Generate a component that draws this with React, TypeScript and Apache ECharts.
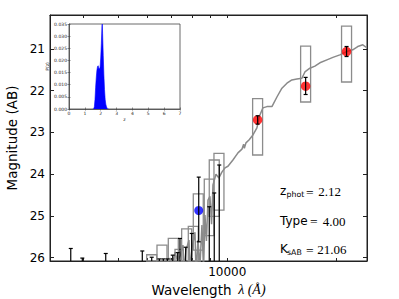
import React, { useEffect, useRef } from "react";
import * as echarts from "echarts";

// ---- Data ----
const specLam = [5000, 6000, 6600, 6947, 7050, 7171, 7300, 7403, 7543, 7600, 7691, 7837, 7900, 7990, 8144, 8200, 8299, 8405, 8512, 8600, 8678, 8760, 8846, 8955, 9050, 9131, 9306, 9485, 9663, 9854, 10045, 10368, 10705, 10980, 11100, 11150, 11264, 11482, 11777, 12078, 12311, 12548, 12874, 13290, 13719, 14163, 14622, 15089, 15575, 16083, 16393, 16922, 17469, 18034, 18857, 19590, 20479, 21415, 22225, 22946, 23700, 24310];
const specMag = [27.0, 26.6, 26.3, 26.01, 26.2, 25.87, 26.1, 25.96, 25.7, 26.3, 25.82, 25.58, 26.3, 25.77, 25.39, 26.4, 25.58, 26.2, 25.22, 26.3, 24.98, 25.6, 24.62, 24.53, 25.2, 24.26, 24.0, 24.09, 23.95, 23.85, 23.81, 23.66, 23.49, 23.4, 23.28, 23.38, 23.25, 23.18, 23.06, 22.89, 22.58, 22.41, 22.38, 22.38, 22.15, 21.94, 21.82, 21.74, 21.72, 21.7, 21.55, 21.46, 21.41, 21.33, 21.26, 21.2, 21.14, 21.06, 21.02, 20.94, 20.9, 20.97];

// filter boxes: lambda min, lambda max, mag top, mag bottom
const boxLamMin = [5988, 6394, 6871, 7171, 7482, 7804, 8056, 8640, 8918, 9189, 11753, 15953, 20700];
const boxLamMax = [6383, 6814, 7323, 7560, 7975, 8316, 8584, 9189, 9504, 9792, 12523, 16999, 22060];
const boxMagTop = [25.93, 25.7, 25.54, 25.8, 25.31, 25.25, 24.47, 24.12, 23.66, 23.5, 22.19, 20.93, 20.45];
const boxMagBot = [27.2, 27.05, 26.89, 27.15, 26.66, 26.6, 25.82, 25.47, 25.01, 24.86, 23.54, 22.27, 21.79];

// error bars: lambda, mag top, mag bottom
const errLam = [3693, 3975, 4614, 5823, 6183, 6490, 6657, 6830, 7067, 7295, 7401, 7675, 7975, 8340, 8918, 9206, 9504, 12134, 16470, 21370];
const errTop = [25.78, 26.01, 25.9, 25.84, 25.99, 26.03, 26.03, 26.03, 25.94, 25.88, 25.54, 25.75, 25.42, 24.07, 24.78, 24.45, 23.78, 22.6, 21.68, 20.94];
const errBot = [27, 27, 27, 27, 27, 27, 27, 27, 27, 27, 27, 27, 27, 25.62, 27, 27, 27, 22.8, 22.09, 21.18];

const redLam = [12134, 16470, 21370];
const redMag = [22.7, 21.89, 21.06];
const blueLam = [8340];
const blueMag = [24.87];

const xTickValues = [4000, 5000, 6000, 7000, 8000, 9000, 10000, 20000];
const xLabelValues = [10000];
const yTickValues = [21, 22, 23, 24, 25, 26];

// P(z) inset
const pzZ = [1.5, 1.56, 1.6, 1.64, 1.68, 1.72, 1.76, 1.8, 1.84, 1.88, 1.92, 1.96, 2.0, 2.04, 2.08, 2.1, 2.12, 2.16, 2.2, 2.24, 2.28, 2.32, 2.36, 2.42, 2.5];
const pzP = [0, 0, 0.001, 0.004, 0.009, 0.013, 0.016, 0.0175, 0.0178, 0.0168, 0.0165, 0.0172, 0.021, 0.027, 0.0345, 0.035, 0.031, 0.022, 0.014, 0.008, 0.004, 0.002, 0.001, 0, 0];

const SANS = '"DejaVu Sans", sans-serif';
const SERIF = '"Liberation Serif", serif';

function buildOption() {
  const spec = specLam.map((l, i) => [l, specMag[i]]);
  const boxes = boxLamMin.map((l, i) => [l, boxLamMax[i], boxMagTop[i], boxMagBot[i]]);
  const errs = errLam.map((l, i) => [l, errTop[i], errBot[i]]);
  const red = redLam.map((l, i) => [l, redMag[i]]);
  const blue = blueLam.map((l, i) => [l, blueMag[i]]);
  const pz = pzZ.map((z, i) => [z, pzP[i]]);

  const mainX = {
    type: "log",
    logBase: 10,
    min: 3236,
    max: 24340,
    gridIndex: 0,
    splitLine: { show: false },
    axisLine: { show: true, lineStyle: { color: "#222", width: 1 } },
  };
  const mainY = {
    type: "value",
    inverse: true,
    min: 20.185,
    max: 26.08,
    gridIndex: 0,
    splitLine: { show: false },
    axisLine: { show: true, lineStyle: { color: "#222", width: 1 } },
  };

  const axisTitle = { fontFamily: SANS, fontSize: 13.5, color: "#000" };
  const insetLbl = { fontFamily: SANS, fontSize: 4.5, color: "#222", margin: 2 };

  const annot = (y: number, main: string, sub: string, subX: number, eqX: number, numX: number, num: string) => {
    const els: any[] = [
      { type: "text", x: 280, y, style: { text: main, fontFamily: SANS, fontSize: 12, fill: "#000", verticalAlign: "middle" } },
      { type: "text", x: eqX, y: y + 1, style: { text: "=", fontFamily: SERIF, fontSize: 13.5, fill: "#000", verticalAlign: "middle" } },
      { type: "text", x: numX, y: y + 0.5, style: { text: num, fontFamily: SERIF, fontSize: 13, fill: "#000", verticalAlign: "middle" } },
    ];
    if (sub) {
      els.push({ type: "text", x: subX, y: y + 3.5, style: { text: sub, fontFamily: SANS, fontSize: 7.8, fill: "#000", verticalAlign: "middle" } });
    }
    return els;
  };

  return {
    animation: false,
    backgroundColor: "#fff",
    grid: [
      { left: 50, top: 15, width: 317, height: 246, outerBoundsMode: "none", containLabel: false, show: true, borderColor: "#222", borderWidth: 1, backgroundColor: "transparent" },
      { left: 69, top: 24, width: 111, height: 85, outerBoundsMode: "none", containLabel: false, show: true, borderColor: "#444", borderWidth: 0.8, backgroundColor: "#fff" },
    ],
    xAxis: [
      {
        ...mainX,
        position: "bottom",
        axisTick: { show: true, inside: true, length: 3, customValues: xTickValues, lineStyle: { color: "#222" } },
        axisLabel: {
          show: true,
          customValues: xLabelValues,
          formatter: (v: number) => String(Math.round(v)),
          fontFamily: SANS,
          fontSize: 12,
          color: "#000",
          margin: 5,
        },
        name: "{a|Wavelength}  {b|λ (Å)}",
        nameLocation: "middle",
        nameGap: 19,
        nameTextStyle: {
          rich: {
            a: { ...axisTitle },
            b: { fontFamily: SERIF, fontStyle: "italic", fontSize: 14, color: "#000" },
          },
        },
      },
      {
        ...mainX,
        position: "top",
        axisTick: { show: true, inside: true, length: 3, customValues: xTickValues, lineStyle: { color: "#222" } },
        axisLabel: { show: false },
      },
      {
        type: "value",
        gridIndex: 1,
        min: 0,
        max: 7,
        interval: 1,
        position: "bottom",
        splitLine: { show: false },
        axisLine: { show: true, lineStyle: { color: "#444", width: 0.8 } },
        axisTick: { show: true, inside: true, length: 1.5, lineStyle: { color: "#444", width: 0.6 } },
        axisLabel: { ...insetLbl },
        name: "z",
        nameLocation: "middle",
        nameGap: 7,
        nameTextStyle: { fontFamily: SANS, fontSize: 4.5, color: "#222" },
      },
      {
        type: "value",
        gridIndex: 1,
        min: 0,
        max: 7,
        interval: 1,
        position: "top",
        splitLine: { show: false },
        axisLine: { show: false },
        axisTick: { show: true, inside: true, length: 1.5, lineStyle: { color: "#444", width: 0.6 } },
        axisLabel: { show: false },
      },
    ],
    yAxis: [
      {
        ...mainY,
        position: "left",
        axisTick: { show: true, inside: true, length: 4, customValues: yTickValues, lineStyle: { color: "#222" } },
        axisLabel: { show: true, customValues: yTickValues, fontFamily: SANS, fontSize: 12, color: "#000", margin: 5 },
        name: "Magnitude (AB)",
        nameLocation: "middle",
        nameGap: 22,
        nameRotate: 90,
        nameTextStyle: { ...axisTitle },
      },
      {
        ...mainY,
        position: "right",
        axisTick: { show: true, inside: true, length: 4, customValues: yTickValues, lineStyle: { color: "#222" } },
        axisLabel: { show: false },
      },
      {
        type: "value",
        gridIndex: 1,
        min: 0,
        max: 0.035,
        interval: 0.005,
        position: "left",
        splitLine: { show: false },
        axisLine: { show: true, lineStyle: { color: "#444", width: 0.8 } },
        axisTick: { show: true, inside: true, length: 1.5, lineStyle: { color: "#444", width: 0.6 } },
        axisLabel: { ...insetLbl, formatter: (v: number) => v.toFixed(3) },
        name: "P(z)",
        nameLocation: "middle",
        nameGap: 15,
        nameRotate: 90,
        nameTextStyle: { fontFamily: SANS, fontSize: 4.5, color: "#222" },
      },
      {
        type: "value",
        gridIndex: 1,
        min: 0,
        max: 0.035,
        interval: 0.005,
        position: "right",
        splitLine: { show: false },
        axisLine: { show: false },
        axisTick: { show: true, inside: true, length: 1.5, lineStyle: { color: "#444", width: 0.6 } },
        axisLabel: { show: false },
      },
    ],
    series: [
      {
        type: "custom",
        name: "boxes",
        xAxisIndex: 0,
        yAxisIndex: 0,
        data: boxes,
        encode: { x: [0, 1], y: [2, 3] },
        z: 2,
        renderItem: (params: any, api: any) => {
          const p1 = api.coord([api.value(0), api.value(2)]);
          const p2 = api.coord([api.value(1), api.value(3)]);
          const cs = params.coordSys;
          const bottom = cs.y + cs.height;
          const x0 = Math.min(p1[0], p2[0]);
          const x1 = Math.max(p1[0], p2[0]);
          const yTop = Math.max(Math.min(p1[1], p2[1]), cs.y);
          const yBot = Math.min(Math.max(p1[1], p2[1]), bottom);
          return {
            type: "polygon",
            shape: { points: [[x0, yBot], [x0, yTop], [x1, yTop], [x1, yBot]] },
            style: { fill: "none", stroke: "#8c8c8c", lineWidth: 1.3 },
          };
        },
      },
      {
        type: "line",
        name: "spectrum",
        xAxisIndex: 0,
        yAxisIndex: 0,
        data: spec,
        showSymbol: false,
        symbol: "none",
        clip: true,
        z: 3,
        lineStyle: { color: "#8a8a8a", width: 1.5 },
      },
      {
        type: "scatter",
        name: "blue",
        xAxisIndex: 0,
        yAxisIndex: 0,
        data: blue,
        symbolSize: 9,
        itemStyle: { color: "#0000ff" },
        z: 4,
      },
      {
        type: "scatter",
        name: "red",
        xAxisIndex: 0,
        yAxisIndex: 0,
        data: red,
        symbolSize: 9.5,
        itemStyle: { color: "#ff0000" },
        z: 4,
      },
      {
        type: "custom",
        name: "errors",
        xAxisIndex: 0,
        yAxisIndex: 0,
        data: errs,
        encode: { x: 0, y: [1, 2] },
        z: 5,
        renderItem: (params: any, api: any) => {
          const pt = api.coord([api.value(0), api.value(1)]);
          const pb = api.coord([api.value(0), api.value(2)]);
          const cs = params.coordSys;
          const bottom = cs.y + cs.height;
          const x = pt[0];
          const yT = Math.min(pt[1], pb[1]);
          let yB = Math.max(pt[1], pb[1]);
          const children: any[] = [];
          const ls = { stroke: "#000", lineWidth: 1.2 };
          const clippedB = yB > bottom;
          if (clippedB) yB = bottom;
          children.push({ type: "line", shape: { x1: x, y1: yT, x2: x, y2: yB }, style: ls });
          if (yT <= bottom) children.push({ type: "line", shape: { x1: x - 2, y1: yT, x2: x + 2, y2: yT }, style: ls });
          if (!clippedB) children.push({ type: "line", shape: { x1: x - 2, y1: yB, x2: x + 2, y2: yB }, style: ls });
          return { type: "group", children };
        },
      },
      {
        type: "line",
        name: "pz",
        xAxisIndex: 2,
        yAxisIndex: 2,
        data: pz,
        showSymbol: false,
        symbol: "none",
        lineStyle: { color: "#0000ff", width: 0.6 },
        areaStyle: { color: "#0000ff", opacity: 1 },
        z: 6,
      },
    ],
    graphic: [
      ...annot(191, "z", "phot", 286.5, 306, 318.3, "2.12"),
      ...annot(220.5, "Type", "", 0, 310, 322.7, "4.00"),
      ...annot(249, "K", "sAB", 287, 306, 317.3, "21.06"),
    ],
  };
}

export default function App() {
  const ref = useRef<HTMLDivElement>(null);
  useEffect(() => {
    if (!ref.current) return;
    const chart = echarts.init(ref.current, null, { renderer: "svg" });
    chart.setOption(buildOption() as any);
    return () => chart.dispose();
  }, []);
  return (
    <div
      ref={ref}
      style={{ position: "fixed", left: 0, top: 0, width: 399, height: 299, background: "#fff" }}
    />
  );
}
